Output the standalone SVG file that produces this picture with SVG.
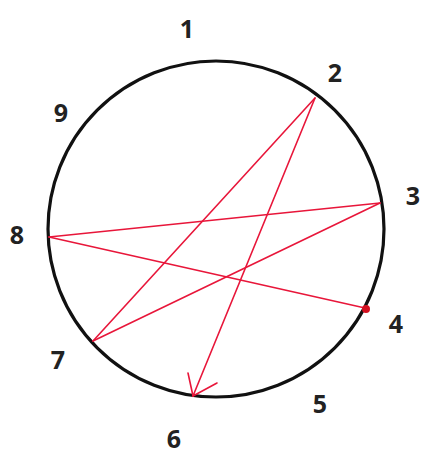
<svg xmlns="http://www.w3.org/2000/svg" width="422" height="455" viewBox="0 0 422 455">
<style>
.lbl{font-family:"Open Sans","Liberation Sans",sans-serif;font-weight:bold;font-size:25px;fill:#222;text-anchor:middle;dominant-baseline:central}
.ln{stroke:#e8163a;stroke-width:1.6;fill:none;stroke-linecap:round}
</style>
<rect width="422" height="455" fill="#fff"/>
<g id="circle"><circle cx="216" cy="229" r="168" fill="none" stroke="#111" stroke-width="3.2"/></g>
<g id="connectors">
<line class="ln" x1="315" y1="98" x2="93" y2="341"/>
<line class="ln" x1="315" y1="98" x2="193" y2="396"/>
<polyline class="ln" points="188,373 193,396 217,383"/>
<line class="ln" x1="49" y1="237" x2="380" y2="203"/>
<line class="ln" x1="49" y1="237" x2="365" y2="308"/>
<line class="ln" x1="380" y1="203" x2="93" y2="341"/>
<circle cx="366" cy="309" r="4" fill="#d41020"/>
</g>
<g id="n1"><text class="lbl" x="187" y="28">1</text></g>
<g id="n2"><text class="lbl" x="335" y="72">2</text></g>
<g id="n3"><text class="lbl" x="413" y="195">3</text></g>
<g id="n4"><text class="lbl" x="396" y="323">4</text></g>
<g id="n5"><text class="lbl" x="320" y="403">5</text></g>
<g id="n6"><text class="lbl" x="174" y="438">6</text></g>
<g id="n7"><text class="lbl" x="58" y="359">7</text></g>
<g id="n8"><text class="lbl" x="17" y="234">8</text></g>
<g id="n9"><text class="lbl" x="61" y="112">9</text></g>
</svg>
